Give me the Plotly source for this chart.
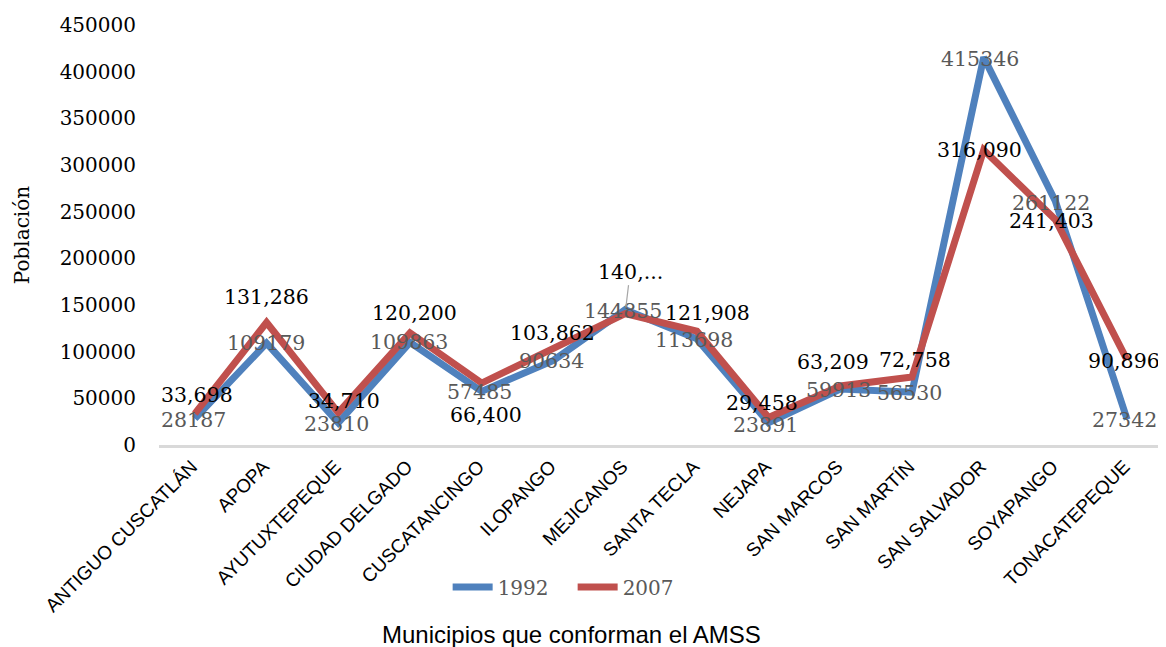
import plotly.graph_objects as go

# ---- data ----
municipios = ["ANTIGUO CUSCATLÁN", "APOPA", "AYUTUXTEPEQUE", "CIUDAD DELGADO",
              "CUSCATANCINGO", "ILOPANGO", "MEJICANOS", "SANTA TECLA", "NEJAPA",
              "SAN MARCOS", "SAN MARTÍN", "SAN SALVADOR", "SOYAPANGO", "TONACATEPEQUE"]
pob_1992 = [28187, 109179, 23810, 109863, 57485, 90634, 144855, 113698, 23891,
            59913, 56530, 415346, 261122, 27342]
pob_2007 = [33698, 131286, 34710, 120200, 66400, 103862, 140751, 121908, 29458,
            63209, 72758, 316090, 241403, 90896]
series_names = ["1992", "2007"]
y_ticks = [0, 50000, 100000, 150000, 200000, 250000, 300000, 350000, 400000, 450000]

etiquetas_1992 = [str(v) for v in pob_1992]
etiquetas_2007 = [f"{v:,}" for v in pob_2007]
etiquetas_2007[6] = "140,..."

# ---- label placement (pixel offsets) ----
dx_1992 = [-1, -1, -2, -1, -2, -2, -2, -3, -3, -2, -3, -4, -4, -3]
dy_1992 = [-1, 0, -1, 0, -1, -1, -1, -1, -2, -1, -1, -2, -2, -1]
dx_2007 = [2, 0, 6, 4, 4, -1, 5, 11, -7, -7, 3, -4, -4, -3]
dy_2007 = [19, 25, 12, 20, -32, 15, 42, 18, 15, 24, 17, 0, -1, -1]

BLUE = "#4F81BD"
RED = "#C0504D"
SERIF = "DejaVu Serif"
SANS = "Liberation Sans"

fig = go.Figure()
fig.add_trace(go.Scatter(x=municipios, y=pob_1992, name=series_names[0], mode="lines",
                         line=dict(color=BLUE, width=7)))
fig.add_trace(go.Scatter(x=municipios, y=pob_2007, name=series_names[1], mode="lines",
                         line=dict(color=RED, width=7)))

annotations = []
for i, m in enumerate(municipios):
    annotations.append(dict(x=m, y=pob_1992[i], xref="x", yref="y", text=etiquetas_1992[i],
                            showarrow=False, xshift=dx_1992[i], yshift=dy_1992[i],
                            font=dict(family=SERIF, size=20.5, color="#595959")))
for i, m in enumerate(municipios):
    if etiquetas_2007[i].endswith("..."):
        annotations.append(dict(x=m, y=pob_2007[i], xref="x", yref="y", text=etiquetas_2007[i],
                                showarrow=True, arrowhead=0, arrowwidth=1.2, arrowcolor="#A6A6A6",
                                ax=dx_2007[i], ay=-dy_2007[i], standoff=6,
                                font=dict(family=SERIF, size=20.5, color="black")))
    else:
        annotations.append(dict(x=m, y=pob_2007[i], xref="x", yref="y", text=etiquetas_2007[i],
                                showarrow=False, xshift=dx_2007[i], yshift=dy_2007[i],
                                font=dict(family=SERIF, size=20.5, color="black")))

annotations.append(dict(x=0.411, y=-0.452, xref="paper", yref="paper",
                        text="Municipios que conforman el AMSS", showarrow=False,
                        xanchor="center", yanchor="middle",
                        font=dict(family=SANS, size=24, color="black")))

# the page body adds an 8px offset, so the figure is 8px smaller on each side
fig.update_layout(
    width=1158, height=639,
    margin=dict(l=151, r=3, t=17, b=202, autoexpand=False),
    paper_bgcolor="white", plot_bgcolor="white",
    showlegend=True,
    legend=dict(orientation="h", x=0.412, y=-0.338, xanchor="center", yanchor="middle",
                font=dict(family=SERIF, size=20, color="#595959"),
                bgcolor="rgba(0,0,0,0)", itemwidth=40,
                entrywidth=70, entrywidthmode="pixels"),
    annotations=annotations,
    xaxis=dict(type="category", range=[-0.5, 13.5], showgrid=False, zeroline=False,
               showline=True, linecolor="#D9D9D9", linewidth=3, ticks="",
               automargin=False, tickangle=-45, ticklabelshift=-3,
               tickfont=dict(family=SANS, size=19, color="black")),
    yaxis=dict(range=[0, 450000], tickvals=y_ticks, ticktext=[str(v) for v in y_ticks],
               showgrid=False, zeroline=False, showline=False, ticks="",
               automargin=False, ticklabelstandoff=22,
               tickfont=dict(family=SERIF, size=20, color="black"),
               title=dict(text="Población", standoff=24,
                          font=dict(family=SERIF, size=20, color="black"))),
)

fig.write_html("out.html")
